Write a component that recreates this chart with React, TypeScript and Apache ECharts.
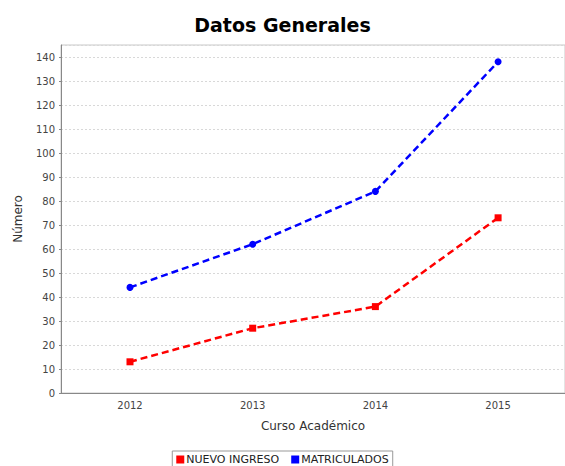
import React, { useEffect, useRef } from "react";
import * as echarts from "echarts";

const categories = ["2012", "2013", "2014", "2015"];
const nuevoIngreso = [13, 27, 36, 73];
const matriculados = [44, 62, 84, 138];
const seriesNames = ["NUEVO INGRESO", "MATRICULADOS"];

export default function App() {
  const ref = useRef<HTMLDivElement>(null);
  useEffect(() => {
    if (!ref.current) return;
    const chart = echarts.init(ref.current, undefined, { renderer: "svg" });
    const font = "DejaVu Sans";
    chart.setOption({
      animation: false,
      backgroundColor: "#ffffff",
      title: {
        text: "Datos Generales",
        left: "center",
        top: 10,
        textStyle: { fontFamily: font, fontSize: 19, fontWeight: "bold", color: "#000" },
      },
      legend: {
        top: 451,
        left: "center",
        itemWidth: 8,
        itemHeight: 8,
        itemGap: 12,
        borderColor: "#999",
        borderWidth: 1,
        borderRadius: 0,
        padding: [3, 4, 4, 4],
        icon: "rect",
        data: seriesNames,
        textStyle: { fontFamily: font, fontSize: 11, color: "#222", padding: [0, 0, 0, -3] },
      },
      grid: {
        left: 61,
        right: 0,
        top: 45,
        bottom: 73,
        show: true,
        borderColor: "#c8c8c8",
        borderWidth: 1,
        backgroundColor: "#fff",
      },
      xAxis: {
        type: "value",
        min: -0.5623,
        max: 3.5453,
        name: "Curso Académico",
        nameLocation: "middle",
        nameGap: 27,
        nameTextStyle: { fontFamily: font, fontSize: 12, color: "#333" },
        axisLine: { show: true, onZero: false, lineStyle: { color: "#888", width: 1 } },
        axisTick: { show: false },
        splitLine: { show: false },
        axisLabel: {
          customValues: [0, 1, 2, 3],
          formatter: (v: number) => categories[Math.round(v)] ?? "",
          fontFamily: font,
          fontSize: 10,
          color: "#444",
          margin: 7,
        },
      },
      yAxis: {
        type: "value",
        min: 0,
        max: 145,
        interval: 10,
        name: "Número",
        nameLocation: "middle",
        nameGap: 37,
        nameTextStyle: { fontFamily: font, fontSize: 12, color: "#333" },
        axisLine: { show: true, onZero: false, lineStyle: { color: "#888", width: 1 } },
        axisTick: { show: true, length: 2, lineStyle: { color: "#888" } },
        axisLabel: {
          fontFamily: font,
          fontSize: 10,
          color: "#444",
          margin: 6,
          showMaxLabel: false,
        },
        splitLine: { show: true, lineStyle: { color: "#d8d8d8", type: [2, 2], width: 1 } },
      },
      series: [
        {
          name: seriesNames[0],
          type: "line",
          data: nuevoIngreso.map((v, i) => [i, v]),
          symbol: "rect",
          symbolSize: 7,
          itemStyle: { color: "#ff0000" },
          lineStyle: { color: "#ff0000", width: 2.5, type: [7, 4] },
        },
        {
          name: seriesNames[1],
          type: "line",
          data: matriculados.map((v, i) => [i, v]),
          symbol: "circle",
          symbolSize: 7,
          itemStyle: { color: "#0000ff" },
          lineStyle: { color: "#0000ff", width: 2.5, type: [7, 4] },
        },
      ],
    });
    return () => chart.dispose();
  }, []);
  return <div ref={ref} style={{ width: 565, height: 466, position: "absolute", left: 0, top: 0 }} />;
}
